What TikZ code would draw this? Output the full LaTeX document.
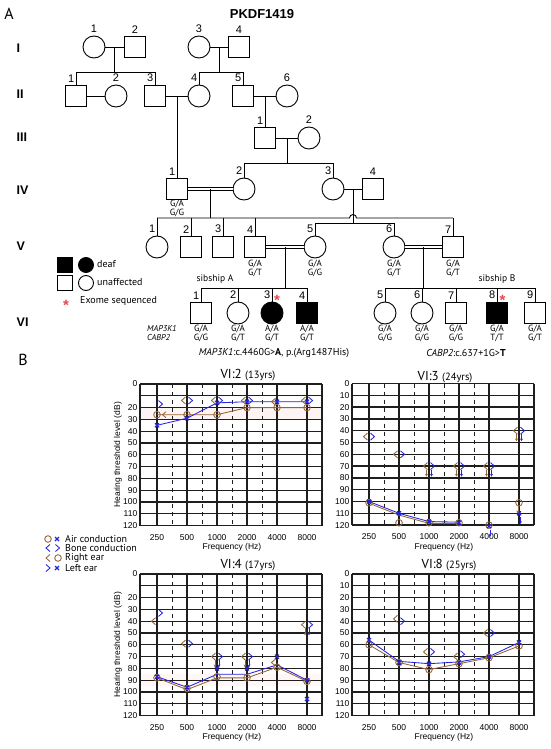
\documentclass[tikz,border=0pt]{standalone}
\usepackage{fontspec}
\setmainfont{Liberation Sans}
\newfontfamily\pts{PT Sans}
\usetikzlibrary{calc,arrows.meta}
\definecolor{brn}{RGB}{150,100,55}
\definecolor{blu}{RGB}{35,35,225}
\definecolor{exred}{RGB}{235,70,80}
\definecolor{grd}{RGB}{30,30,30}
\newcommand\mO[2]{\draw[brl] (#1,#2) circle[radius=3.3pt];}
\newcommand\mX[2]{\draw[bul,line width=1.2pt] (#1,#2) ++(-2pt,-2pt) -- ++(4pt,4pt) (#1,#2) ++(-2pt,2pt) -- ++(4pt,-4pt);}
\newcommand\mL[2]{\draw[brl] (#1,#2) ++(-1.5pt,3.5pt) -- ++(-4pt,-3.5pt) -- ++(4pt,-3.5pt);}
\newcommand\mR[2]{\draw[bul] (#1,#2) ++(1.5pt,3.5pt) -- ++(4pt,-3.5pt) -- ++(-4pt,-3.5pt);}
\newcommand\mDn[4]{\draw[draw=#1,line width=.7pt,-{Stealth[length=2.6pt,width=2.8pt]}] (#2,#3) ++(#4,-3.5pt) -- ++(0,-7pt);}
\newcommand\aggrid[2]{%
  \foreach \dd in {0,10,...,120}{\draw[gh] (-0.5667,\dd) -- (5.5,\dd);}
  \foreach \i in {0,...,5}{\draw[gv] (\i,0) -- (\i,120);}
  \foreach \i in {0.5,1.5,2.5,3.5}{\draw[gd] (\i,0) -- (\i,120);}
  \draw[gv] (-0.5667,0) -- (-0.5667,120) (5.5,0) -- (5.5,120);
  \foreach \dd in {#2}{\node[tk,anchor=east] (#1y\dd) at ([xshift=-2.5pt]-0.5667,\dd) {\dd};}
  \foreach \i/\ff in {0/250,1/500,2/1000,3/2000,4/4000,5/8000}{\node[tk] (#1f\i) at ([yshift=-11.5pt]\i,120) {\ff};}
  \node[tk] (#1fq) at ([yshift=-22pt]2.5,120) {Frequency (Hz)};
}
\begin{document}
\begin{tikzpicture}[x=1pt,y=-1pt,
  sq/.style={draw, line width=0.9pt, minimum size=21.5pt, inner sep=0pt},
  ci/.style={draw, circle, line width=0.9pt, minimum size=22pt, inner sep=0pt},
  aff/.style={fill=black},
  ln/.style={line width=0.9pt},
  dbl/.style={double, double distance=1.7pt, line width=0.8pt},
  num/.style={font=\fontsize{11}{11}\selectfont, inner sep=0pt},
  gt/.style={font=\pts\fontsize{9}{9}\selectfont, align=center, inner sep=0pt},
  gen/.style={font=\fontsize{12.5}{12.5}\selectfont\bfseries, inner sep=0pt, anchor=west},
  lgt/.style={font=\pts\fontsize{10}{10}\selectfont, inner sep=0pt, anchor=west},
  ast/.style={font=\fontsize{15}{15}\selectfont\bfseries, text=exred, inner sep=0pt, anchor=base},
  gh/.style={draw=grd, line width=1.25pt},
  gv/.style={draw=grd, line width=1.1pt},
  gd/.style={draw=grd, line width=0.9pt, dash pattern=on 4pt off 4pt},
  tk/.style={font=\fontsize{8.5}{8.5}\selectfont, inner sep=0pt},
  brl/.style={draw=brn, line width=0.85pt},
  bul/.style={draw=blu, line width=0.85pt},
  ttl/.style={font=\pts\fontsize{13}{13}\selectfont, inner sep=0pt},
]
\fill[white] (0,0) rectangle (550,749);
\useasboundingbox (0,0) rectangle (550,749);

% ---------- panel labels and title
\node[font=\pts\fontsize{16}{16}\selectfont, inner sep=0pt] (lA) at (9,14) {A};
\node[font=\pts\fontsize{16}{16}\selectfont, inner sep=0pt] (lB) at (23,360) {B};
\node[font=\fontsize{13}{13}\selectfont\bfseries, inner sep=0pt] (ttlP) at (262,14) {PKDF1419};

\node[gen] (gI) at (16.5,48) {I};
\node[gen] (gII) at (16.5,94) {II};
\node[gen] (gIII) at (16.5,137) {III};
\node[gen] (gIV) at (16.5,190) {IV};
\node[gen] (gV) at (16.5,246) {V};
\node[gen] (gVI) at (16.5,322) {VI};

% ---------- pedigree symbols
\node[ci] (I1) at (94,47) {};
\node[sq] (I2) at (135,47) {};
\node[ci] (I3) at (199,47) {};
\node[sq] (I4) at (239,47) {};
\node[sq] (II1) at (76,96) {};
\node[ci] (II2) at (116,96) {};
\node[sq] (II3) at (155,96) {};
\node[ci] (II4) at (199,96) {};
\node[sq] (II5) at (243,96) {};
\node[ci] (II6) at (287,96) {};
\node[sq] (III1) at (265,138) {};
\node[ci] (III2) at (309,138) {};
\node[sq] (IV1) at (177,189) {};
\node[ci] (IV2) at (244,189) {};
\node[ci] (IV3) at (333,189) {};
\node[sq] (IV4) at (373,189) {};
\node[ci] (V1) at (157,247) {};
\node[sq] (V2) at (191,247) {};
\node[sq] (V3) at (223,247) {};
\node[sq] (V4) at (255,247) {};
\node[ci] (V5) at (315,247) {};
\node[ci] (V6) at (394,247) {};
\node[sq] (V7) at (453,247) {};
\node[sq] (VI1) at (201,313) {};
\node[ci] (VI2) at (238,313) {};
\node[ci,aff] (VI3) at (272,313) {};
\node[sq,aff] (VI4) at (307,313) {};
\node[ci] (VI5) at (385,313) {};
\node[ci] (VI6) at (422,313) {};
\node[sq] (VI7) at (456,313) {};
\node[sq,aff] (VI8) at (497,313) {};
\node[sq] (VI9) at (535,313) {};

% sibship levels
\coordinate (y1) at (0,72);
\coordinate (y4) at (0,163);
\coordinate (y5) at (0,218);
\coordinate (y6) at (0,223);
\coordinate (y7) at (0,288);

% ---------- connectors
\draw[ln] (I1) -- (I2);
\draw[ln] (I3) -- (I4);
\coordinate (m1) at ($(I1)!.5!(I2)$);
\coordinate (m2) at ($(I3)!.5!(I4)$);
\draw[ln] (m1) -- (m1 |- y1);
\draw[ln] (m2) -- (m2 |- y1);
\draw[ln] (II1 |- y1) -- (II3 |- y1);
\draw[ln] (II4 |- y1) -- (II5 |- y1);
\foreach \n in {II1,II3,II4,II5}{\draw[ln] (\n |- y1) -- (\n.north);}
\draw[ln] (II1) -- (II2);
\draw[ln] (II3) -- (II4);
\draw[ln] (II5) -- (II6);
\coordinate (m3) at ($(II3)!.5!(II4)$);
\coordinate (m4) at ($(II5)!.5!(II6)$);
\draw[ln] (m3) -- (IV1.north);
\draw[ln] (m4) -- (III1.north);
\draw[ln] (III1) -- (III2);
\coordinate (m5) at ($(III1)!.5!(III2)$);
\draw[ln] (m5) -- (m5 |- y4);
\draw[ln] (IV2 |- y4) -- (IV3 |- y4);
\draw[ln] (IV2 |- y4) -- (IV2.north);
\draw[ln] (IV3 |- y4) -- (IV3.north);
\draw[dbl] (IV1) -- (IV2);
\draw[ln] (IV3) -- (IV4);
\coordinate (m6) at ($(IV1)!.5!(IV2)$);
\coordinate (m7) at ($(IV3)!.5!(IV4)$);
\draw[ln] (m6) -- (m6 |- y5);
\draw[ln] (m7) -- (m7 |- y6);
\draw[ln] (V1 |- y5) -- ($(m7 |- y5)+(-3.5,0)$) arc[start angle=180,end angle=360,radius=3.5] -- (V7 |- y5);
\foreach \n in {V1,V2,V3,V4,V7}{\draw[ln] (\n |- y5) -- (\n.north);}
\draw[ln] (V5 |- y6) -- (V6 |- y6);
\draw[ln] (V5 |- y6) -- (V5.north);
\draw[ln] (V6 |- y6) -- (V6.north);
\draw[dbl] (V4) -- (V5);
\draw[dbl] (V6) -- (V7);
\coordinate (m8) at ($(V4)!.5!(V5)$);
\coordinate (m9) at ($(V6)!.5!(V7)$);
\draw[ln] (m8) -- (m8 |- y7);
\draw[ln] (m9) -- (m9 |- y7);
\draw[ln] (VI1 |- y7) -- (VI4 |- y7);
\draw[ln] (VI5 |- y7) -- (VI9 |- y7);
\foreach \n in {VI1,VI2,VI3,VI4,VI5,VI6,VI7,VI8,VI9}{\draw[ln] (\n |- y7) -- (\n.north);}

% ---------- numbers
\foreach \n/\t in {I1/1,I2/2,I3/3,I4/4,II2/2,II6/6,III2/2,IV4/4}{\node[num,anchor=south] (n\n) at ($(\n.north)+(0,-2.5)$) {\t};}
\foreach \n/\t in {II1/1,II3/3,II4/4,II5/5,III1/1,IV1/1,IV2/2,IV3/3,V1/1,V2/2,V3/3,V4/4,V5/5,V6/6,V7/7,VI1/1,VI2/2,VI3/3,VI4/4,VI5/5,VI6/6,VI7/7,VI8/8,VI9/9}{\node[num,anchor=south east] (n\n) at ($(\n.north)+(-1.5,-2.5)$) {\t};}
\node[ast] (astA) at (277,305.5) {*};
\node[ast] (astB) at (502.5,305.5) {*};

% ---------- genotypes
\node[gt] (gIV1) at (177,208.5) {G/A\\G/G};
\node[gt] (gV4) at (255,268) {G/A\\G/T};
\node[gt] (gV5) at (315,268) {G/A\\G/G};
\node[gt] (gV6) at (394,268) {G/A\\G/T};
\node[gt] (gV7) at (453,268) {G/A\\G/T};
\foreach \n/\a/\b in {VI1/G\slash A/G\slash G,VI2/G\slash A/G\slash T,VI3/A\slash A/G\slash T,VI4/A\slash A/G\slash T,VI5/G\slash A/G\slash G,VI6/G\slash A/G\slash G,VI7/G\slash A/G\slash G,VI8/G\slash A/T\slash T,VI9/G\slash A/G\slash T}{\node[gt] (g\n) at ($(\n)+(0,20.5)$) {\a\\\b};}
\node[gt, anchor=west, font=\pts\itshape\fontsize{8.5}{9}\selectfont, align=left] (genes) at (147,333.5) {MAP3K1\\CABP2};
\node[lgt, anchor=center, font=\pts\fontsize{9.5}{9.5}\selectfont] (sibA) at (215,279) {sibship A};
\node[lgt, anchor=center, font=\pts\fontsize{9.5}{9.5}\selectfont] (sibB) at (497,279) {sibship B};
\node[lgt, anchor=center] (mutA) at (274,353) {\textit{MAP3K1}:c.4460G>\textbf{A}, p.(Arg1487His)};
\node[lgt, anchor=center] (mutB) at (466,353) {\textit{CABP2}:c.637+1G>\textbf{T}};

% ---------- pedigree legend
\node[sq,aff,minimum size=15pt] (lg1) at (64.5,265) {};
\node[ci,aff,minimum size=15pt] (lg2) at (86,265) {};
\node[lgt] (lg3) at (97,264) {deaf};
\node[sq,minimum size=15pt] (lg4) at (64.5,283) {};
\node[ci,minimum size=15pt] (lg5) at (86,283) {};
\node[lgt] (lg6) at (97,282) {unaffected};
\node[ast] (lg7) at (66,310.5) {*};
\node[lgt] (lg8) at (80,301) {Exome sequenced};

% ---------- audiogram legend
\mO{48}{539}\mX{57}{539}
\draw[bul] (50,544.5) -- (46,548) -- (50,551.5);
\draw[bul] (55.5,544.5) -- (59.5,548) -- (55.5,551.5);
\draw[brl] (50,554.5) -- (46,558) -- (50,561.5);
\mO{58}{558}
\draw[bul] (46,564.5) -- (50,568) -- (46,571.5);
\mX{57}{568}
\node[lgt] (al1) at (65,539) {Air conduction};
\node[lgt] (al2) at (65,548.5) {Bone conduction};
\node[lgt] (al3) at (65,558.5) {Right ear};
\node[lgt] (al4) at (65,568) {Left ear};

% ---------- titles
\node[ttl] (tA) at (248,375) {VI:2 {\fontsize{10.5}{10.5}\selectfont (13yrs)}};
\node[ttl] (tB) at (445,377) {VI:3 {\fontsize{10.5}{10.5}\selectfont (24yrs)}};
\node[ttl] (tC) at (248,565) {VI:4 {\fontsize{10.5}{10.5}\selectfont (17yrs)}};
\node[ttl] (tD) at (449,565) {VI:8 {\fontsize{10.5}{10.5}\selectfont (25yrs)}};

% ---------- VI:2
\begin{scope}[shift={(157pt,-384pt)}, x=30pt, y=-1.18pt]
\fill[pink!18] (-0.5667,20) rectangle (5.5,30);
\aggrid{a}{0,20,30,40,50,60,70,80,90,100,110,120}
\node[tk, rotate=90] (ayt) at ([xshift=-22pt]-0.5667,60) {Hearing threshold level (dB)};
\draw[brl] (0,26) -- (1,26) -- (2,26) -- (3,20) -- (4,20) -- (5,20);
\draw[bul] (0,35) -- (1,29) -- (2,16) -- (3,15) -- (4,15) -- (5,15);
\foreach \i/\dd in {0/26,1/26,2/26,3/20,4/20,5/20}{\mO{\i}{\dd}}
\foreach \i/\dd in {0/35,1/29,2/16,3/15,4/15,5/15}{\mX{\i}{\dd}}
\mR{0}{17}
\draw[brl] (0,26) ++(9pt,3pt) -- ++(-3.5pt,-3pt) -- ++(3.5pt,-3pt);
\foreach \i in {1,2,3,5}{\mL{\i}{14}\mR{\i}{14}}
\mL{4}{15}
\end{scope}

% ---------- VI:3
\begin{scope}[shift={(369pt,-383.5pt)}, x=30pt, y=-1.18pt]
\aggrid{b}{0,10,20,30,40,50,60,70,80,90,100,110,120}
\draw[brl] (0,101.5) -- (1,111.5) -- (2,118.5) -- (3,118.5);
\draw[bul] (0,100) -- (1,110) -- (2,117) -- (3,117.5);
\foreach \i/\dd in {0/101,1/118,2/118,3/118,4/120,5/101}{\mO{\i}{\dd}}
\foreach \i/\dd in {0/100,1/110,2/117,3/118,4/121,5/110}{\mX{\i}{\dd}}
\mDn{blu}{4}{121}{1pt}
\mDn{brn}{5}{101}{-1pt}
\mDn{blu}{5}{110}{1.5pt}
\mL{0}{45}\mR{0}{45}
\mL{1}{60}\mR{1}{60}
\foreach \i in {2,3,4}{\mL{\i}{70}\mR{\i}{70}\mDn{brn}{\i}{70}{-2.5pt}\mDn{blu}{\i}{70}{2.5pt}}
\mL{5}{40}\mR{5}{40}\mDn{brn}{5}{40}{-2.5pt}\mDn{blu}{5}{40}{2.5pt}
\end{scope}

% ---------- VI:4
\begin{scope}[shift={(157pt,-574pt)}, x=30pt, y=-1.18pt]
\fill[pink!14] (-0.5667,85) rectangle (5.5,95);
\aggrid{c}{0,20,30,40,50,60,70,80,90,100,110,120}
\node[tk, rotate=90] (cyt) at ([xshift=-22pt]-0.5667,60) {Hearing threshold level (dB)};
\draw[brl] (0,88) -- (1,98) -- (2,88) -- (3,88) -- (4,79) -- (5,91);
\draw[bul] (0,87) -- (1,96) -- (2,85) -- (3,85) -- (4,77) -- (5,90);
\foreach \i/\dd in {0/88,1/97,2/87,3/88,4/79,5/91}{\mO{\i}{\dd}}
\foreach \i/\dd in {0/87,1/96,2/80,3/80,4/70,5/90,5/106}{\mX{\i}{\dd}}
\mR{0}{33}
\mL{0}{40}
\mL{1}{59}\mR{1}{59}
\foreach \i in {2,3}{\mL{\i}{70}\mR{\i}{70}\mDn{brn}{\i}{70}{-2pt}\mDn{blu}{\i}{70}{2pt}}
\mL{4}{75}
\mL{5}{43}\mR{5}{43}\mDn{brn}{5}{43}{-2pt}\mDn{blu}{5}{43}{2pt}
\end{scope}

% ---------- VI:8
\begin{scope}[shift={(369pt,-574pt)}, x=30pt, y=-1.18pt]
\aggrid{d}{0,10,20,30,40,50,60,70,80,90,100,110,120}
\draw[brl] (0,60) -- (1,75) -- (2,81) -- (3,76) -- (4,71) -- (5,61);
\draw[bul] (0,56) -- (1,74) -- (2,76) -- (3,74.5) -- (4,70) -- (5,58);
\foreach \i/\dd in {0/60,1/75,2/81,3/76,4/71,5/61}{\mO{\i}{\dd}}
\foreach \i/\dd in {0/56,1/75,2/76,3/75,4/70,5/58}{\mX{\i}{\dd}}
\mL{1}{38}\mR{1}{40}
\mL{2}{66}\mR{2}{66}
\mL{3}{70}\mR{3}{68}
\mL{4}{50}\mR{4}{50}
\end{scope}
\end{tikzpicture}
\end{document}
